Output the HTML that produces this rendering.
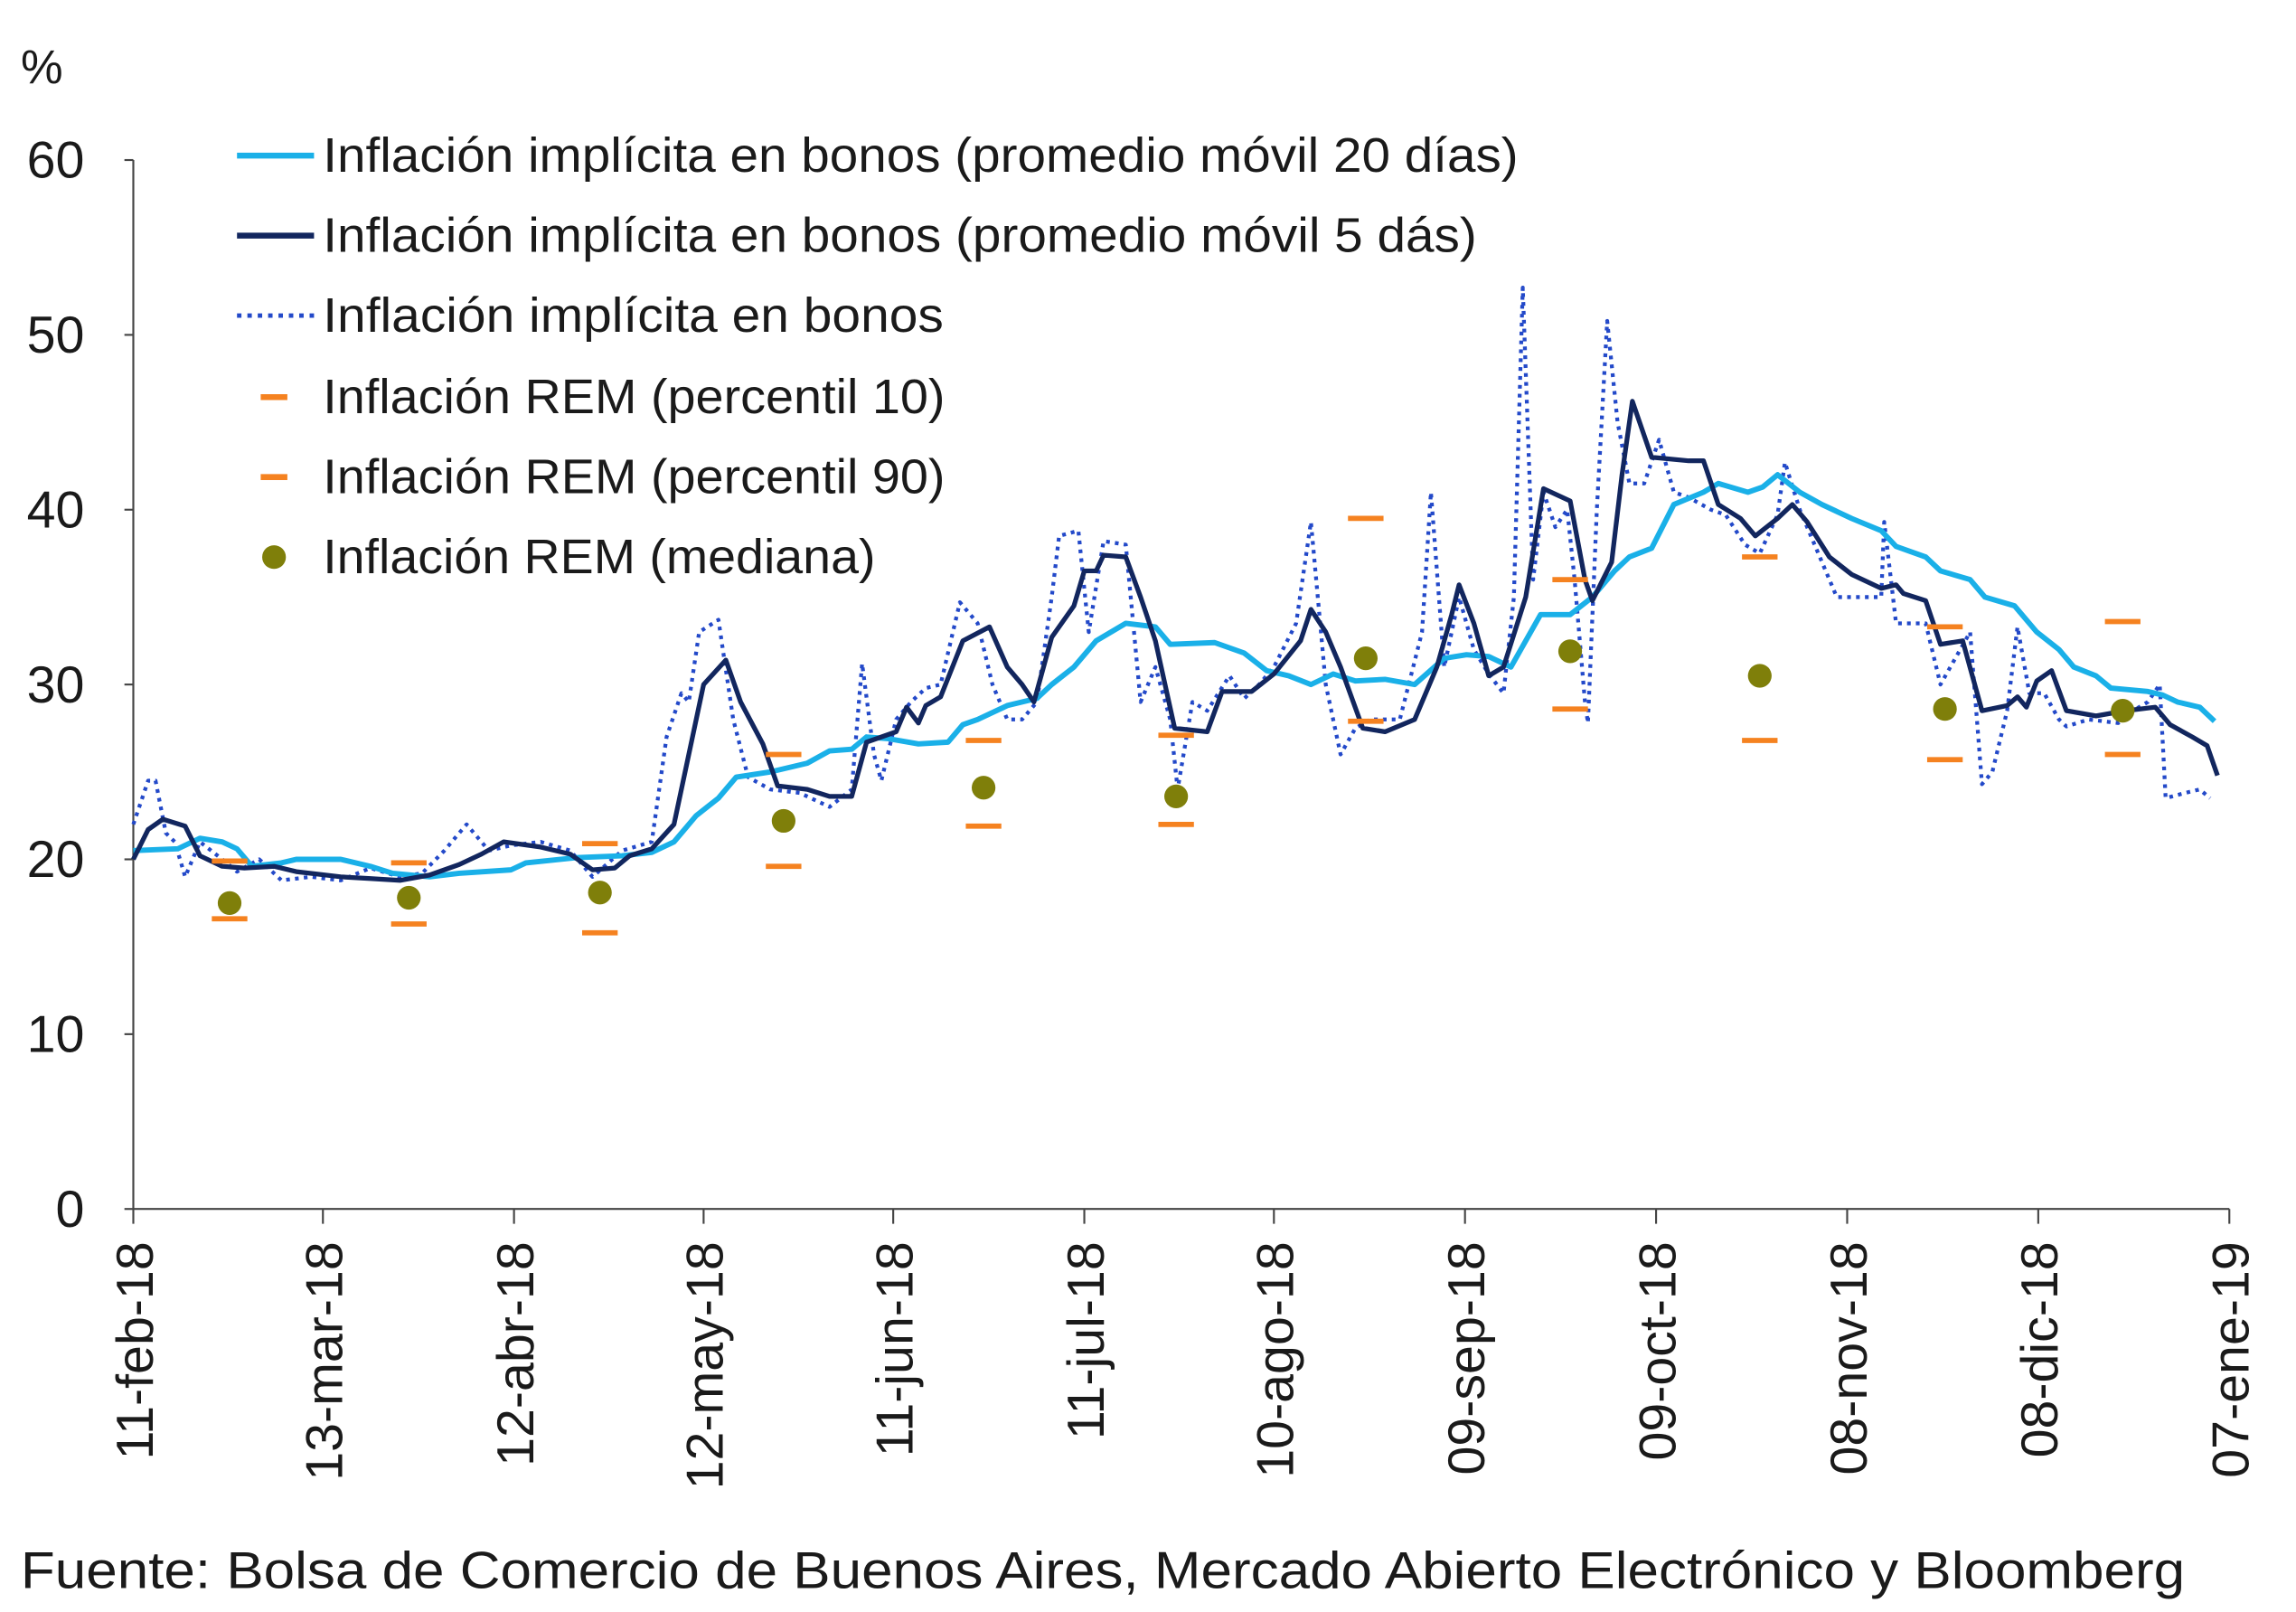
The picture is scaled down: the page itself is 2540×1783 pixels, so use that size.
<!DOCTYPE html>
<html><head><meta charset="utf-8"><style>
html,body{margin:0;padding:0;background:#fff}
svg{display:block}
text{font-family:"Liberation Sans",sans-serif;fill:#1a1a1a}
</style></head><body>
<svg id="s" width="2540" height="1783" viewBox="0 0 1550 1088" xmlns="http://www.w3.org/2000/svg">
<rect width="1550" height="1088" fill="#fff"/>
<text x="14" y="56" font-size="32">%</text>
<g id="axes" stroke="#444" stroke-width="1.3" fill="none">
<line x1="90" y1="108" x2="90" y2="816"/>
<line x1="90" y1="816" x2="1505" y2="816"/>
</g>
<g font-size="35" text-anchor="end">
<text x="57" y="828">0</text><text x="57" y="710">10</text><text x="57" y="592">20</text>
<text x="57" y="474">30</text><text x="57" y="356">40</text><text x="57" y="238">50</text><text x="57" y="120">60</text>
</g>
<g id="xl" font-size="35" text-anchor="end"></g>
<g id="series"></g>
<g font-size="33">
<line x1="160" y1="105" x2="212" y2="105" stroke="#1ab0e8" stroke-width="4"/>
<text x="218" y="116" textLength="807" lengthAdjust="spacingAndGlyphs">Inflación implícita en bonos (promedio móvil 20 días)</text>
<line x1="160" y1="159" x2="212" y2="159" stroke="#12265e" stroke-width="4"/>
<text x="218" y="170" textLength="779" lengthAdjust="spacingAndGlyphs">Inflación implícita en bonos (promedio móvil 5 dás)</text>
<line x1="160" y1="213" x2="212" y2="213" stroke="#2349c9" stroke-width="3" stroke-dasharray="3,4"/>
<text x="218" y="224" textLength="419" lengthAdjust="spacingAndGlyphs">Inflación implícita en bonos</text>
<line x1="176" y1="268" x2="194" y2="268" stroke="#f58220" stroke-width="4"/>
<text x="218" y="279" textLength="420" lengthAdjust="spacingAndGlyphs">Inflación REM (percentil 10)</text>
<line x1="176" y1="322" x2="194" y2="322" stroke="#f58220" stroke-width="4"/>
<text x="218" y="333" textLength="420" lengthAdjust="spacingAndGlyphs">Inflación REM (percentil 90)</text>
<circle cx="185" cy="376" r="8" fill="#7f7f0a"/>
<text x="218" y="387" textLength="373" lengthAdjust="spacingAndGlyphs">Inflación REM (mediana)</text>
</g>
<text x="14" y="1072" font-size="35" textLength="1461" lengthAdjust="spacingAndGlyphs">Fuente: Bolsa de Comercio de Buenos Aires, Mercado Abierto Electrónico y Bloomberg</text>
<script>
var NS="http://www.w3.org/2000/svg";
function Y(v){return 816-v*11.8;}
function el(t,a,p){var e=document.createElementNS(NS,t);for(var k in a)e.setAttribute(k,a[k]);(p||document.getElementById('series')).appendChild(e);return e;}
var ticks=[[90,"11-feb-18"],[218,"13-mar-18"],[347,"12-abr-18"],[475,"12-may-18"],[603,"11-jun-18"],[732,"11-jul-18"],[860,"10-ago-18"],[989,"09-sep-18"],[1118,"09-oct-18"],[1247,"08-nov-18"],[1376,"08-dic-18"],[1505,"07-ene-19"]];
var ax=document.getElementById('axes'),xl=document.getElementById('xl');
ticks.forEach(function(t){el('line',{x1:t[0],y1:816,x2:t[0],y2:826},ax);
var tx=el('text',{x:0,y:0,transform:"translate("+(t[0]+13)+",838) rotate(-90)"},xl);tx.textContent=t[1];});
[0,10,20,30,40,50,60].forEach(function(v){el('line',{x1:84,y1:Y(v),x2:90,y2:Y(v)},ax);});
function pl(d,a){a.points=d.map(function(p){return p[0]+","+Y(p[1]).toFixed(1)}).join(" ");a.fill="none";a["stroke-linejoin"]="round";el('polyline',a);}
var dot=[[90,22],[100,24.5],[105,24.5],[112,21.5],[118,21],[125,19],[135,21],[150,20],[160,19.3],[175,20],[190,18.8],[210,19],[230,18.8],[250,19.5],[270,19],[285,19.2],[300,20.5],[315,22],[330,20.5],[345,20.8],[365,21],[385,20.5],[400,19],[420,20.5],[440,21],[450,27],[460,29.5],[465,29],[472,33],[485,33.7],[495,28],[505,24.7],[520,24],[540,23.8],[560,23],[575,24],[582,31.2],[590,26],[595,24.5],[605,28],[615,29],[625,29.8],[635,30],[648,34.7],[660,33.5],[670,30],[680,28],[690,28],[700,29],[710,35],[715,38.5],[728,38.8],[735,33],[745,38.2],[760,38],[770,29],[780,31],[790,28],[795,24],[805,29],[815,28.5],[830,30.5],[840,29.2],[850,30],[860,31],[875,33.5],[885,39.3],[895,30],[905,26],[915,27.5],[925,28],[945,28],[960,33],[966,41],[975,31],[985,35],[995,32],[1005,30.6],[1015,29.5],[1022,35],[1028,52.7],[1035,36],[1042,41],[1050,39],[1058,40],[1063,36],[1070,29],[1072,27.8],[1078,40],[1085,50.8],[1092,45],[1100,41.5],[1110,41.5],[1120,44],[1130,41],[1140,40.7],[1155,40],[1165,39.7],[1178,38],[1188,37.5],[1200,39.7],[1205,42.7],[1215,40],[1225,38],[1240,35],[1255,35],[1270,35],[1272,39.3],[1280,33.5],[1300,33.5],[1310,30],[1320,31.5],[1330,33],[1338,24.3],[1345,25],[1355,28.5],[1362,33.3],[1370,29.5],[1380,29.5],[1390,28],[1395,27.6],[1410,28],[1430,27.8],[1440,28.5],[1450,29],[1458,30],[1462,23.5],[1475,23.8],[1485,24],[1492,23.5]];
var lb=[[90,20.5],[120,20.6],[135,21.2],[150,21],[160,20.6],[170,19.6],[190,19.8],[200,20],[230,20],[250,19.6],[265,19.2],[290,19],[310,19.2],[345,19.4],[355,19.8],[390,20.1],[420,20.2],[440,20.4],[455,21],[470,22.5],[485,23.5],[497,24.7],[520,25],[545,25.5],[560,26.2],[575,26.3],[585,27],[600,26.9],[620,26.6],[640,26.7],[650,27.7],[660,28],[680,28.8],[700,29.2],[710,30],[725,31],[740,32.5],[760,33.5],[780,33.3],[790,32.3],[820,32.4],[840,31.8],[855,30.8],[870,30.5],[885,30],[900,30.6],[915,30.2],[935,30.3],[955,30],[975,31.5],[990,31.7],[1005,31.6],[1020,31],[1040,34],[1060,34],[1075,35],[1090,36.5],[1100,37.3],[1115,37.8],[1130,40.3],[1150,41],[1160,41.5],[1180,41],[1190,41.3],[1200,42],[1215,41],[1230,40.3],[1250,39.5],[1270,38.8],[1280,37.9],[1300,37.3],[1310,36.5],[1330,36],[1340,35],[1360,34.5],[1375,33],[1390,32],[1400,31],[1415,30.5],[1425,29.8],[1450,29.6],[1460,29.4],[1470,29],[1485,28.7],[1495,27.9]];
var nv=[[90,20],[100,21.7],[110,22.3],[125,21.9],[135,20.2],[150,19.6],[165,19.5],[185,19.6],[200,19.3],[230,19],[250,18.9],[270,18.8],[290,19.1],[310,19.7],[325,20.3],[340,21],[365,20.7],[385,20.3],[400,19.4],[415,19.5],[425,20.2],[440,20.6],[455,22],[465,26],[475,30],[490,31.4],[500,29],[515,26.6],[525,24.2],[545,24],[560,23.6],[575,23.6],[585,26.7],[595,27],[605,27.3],[612,28.7],[620,27.8],[625,28.8],[635,29.3],[650,32.5],[668,33.3],[680,31],[690,30],[698,29],[710,32.7],[725,34.5],[732,36.5],[740,36.5],[745,37.4],[760,37.3],[770,35],[780,32.5],[793,27.5],[815,27.3],[825,29.6],[845,29.6],[860,30.6],[878,32.5],[885,34.3],[895,33],[905,31],[920,27.5],[935,27.3],[955,28],[970,31],[980,34],[985,35.7],[995,33.5],[1005,30.5],[1015,31],[1030,35],[1042,41.2],[1060,40.5],[1070,36],[1075,34.8],[1088,37],[1095,42],[1102,46.2],[1115,43],[1140,42.8],[1150,42.8],[1160,40.3],[1175,39.5],[1185,38.5],[1200,39.5],[1210,40.3],[1220,39.3],[1235,37.3],[1250,36.3],[1270,35.5],[1280,35.7],[1285,35.2],[1300,34.8],[1310,32.3],[1325,32.5],[1338,28.5],[1355,28.8],[1362,29.3],[1368,28.7],[1375,30.2],[1385,30.8],[1395,28.5],[1415,28.2],[1435,28.5],[1455,28.7],[1465,27.7],[1480,27],[1490,26.5],[1497,24.8]];
pl(dot,{stroke:"#2349c9","stroke-width":2.6,"stroke-dasharray":"2.5,3.5"});
pl(lb,{stroke:"#1ab0e8","stroke-width":3.6});
pl(nv,{stroke:"#12265e","stroke-width":3.2});
var rem=[[155,19.9,16.6,17.5],[276,19.8,16.3,17.8],[405,20.9,15.8,18.1],[529,26,19.6,22.2],[664,26.8,21.9,24.1],[794,27.1,22,23.6],[922,39.5,27.9,31.5],[1060,36,28.6,31.9],[1188,37.3,26.8,30.5],[1313,33.3,25.7,28.6],[1433,33.6,26,28.5]];
rem.forEach(function(r){[r[1],r[2]].forEach(function(v){el('line',{x1:r[0]-12,x2:r[0]+12,y1:Y(v),y2:Y(v),stroke:"#f58220","stroke-width":3.5});});
el('circle',{cx:r[0],cy:Y(r[3]),r:8,fill:"#7f7f0a"});});
</script>
</svg>
</body></html>
